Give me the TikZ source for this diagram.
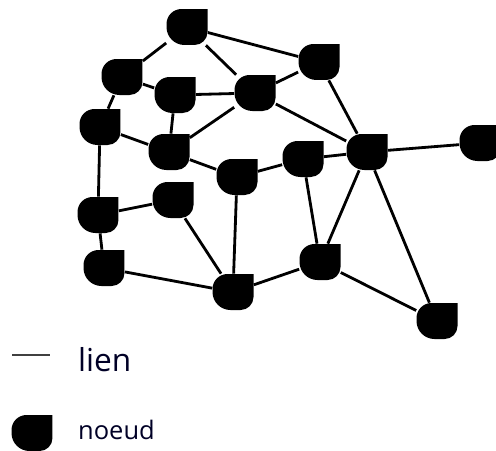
\documentclass[tikz,border=0pt]{standalone}
\usepackage{fontspec}
\setmainfont{Open Sans}
\begin{document}
\begin{tikzpicture}[x=0.02cm, y=0.02cm,
    noeud/.style={rectangle, inner sep=0pt, minimum width=0.82cm, minimum height=0.72cm,
      path picture={\fill[black, shift={(path picture bounding box.center)}]
        (0.41cm,0.36cm) -- (0.41cm,-0.10cm) arc[start angle=0, end angle=-90, radius=0.26cm]
        -- (-0.05cm,-0.36cm) arc[start angle=270, end angle=180, radius=0.36cm]
        -- (-0.41cm,0.06cm) arc[start angle=180, end angle=90, radius=0.30cm] -- cycle;}},
    lien/.style={line width=1.6pt}]
    \useasboundingbox (0,0) rectangle (496,-450);

    % Noeuds
    \node[noeud] (a) at (187,-27) {};
    \node[noeud] (b) at (319,-62) {};
    \node[noeud] (c) at (122,-77) {};
    \node[noeud] (d) at (175,-95) {};
    \node[noeud] (e) at (255,-93) {};
    \node[noeud] (f) at (100,-127) {};
    \node[noeud] (g) at (169,-152) {};
    \node[noeud] (h) at (237,-177) {};
    \node[noeud] (i) at (303,-159) {};
    \node[noeud] (j) at (367,-152) {};
    \node[noeud] (k) at (480,-143) {};
    \node[noeud] (l) at (173,-200) {};
    \node[noeud] (m) at (98,-215) {};
    \node[noeud] (n) at (104,-268) {};
    \node[noeud] (o) at (233,-292) {};
    \node[noeud] (p) at (320,-262) {};
    \node[noeud] (q) at (437,-321) {};

    % Liens
    \foreach \u/\v in {a/b, a/c, a/e, c/d, c/f, d/e, d/g, e/b, e/j, e/g, f/g, f/m,
                       g/h, h/i, i/j, b/j, j/k, h/o, i/p, j/p, j/q, p/q, p/o,
                       m/l, l/o, m/n, n/o}
        \draw[lien] (\u) -- (\v);

    % Legende
    \coordinate (l1) at (12,-355);
    \coordinate (l2) at (50,-355);
    \draw[line width=0.9pt, black!75] (l1) -- (l2);
    \node[anchor=west, text=black!85!blue, font=\fontsize{18}{20}\selectfont] (tlien) at (72,-360) {lien};
    \node[noeud] (leg) at (32,-433) {};
    \node[anchor=west, text=black!85!blue, font=\fontsize{14.5}{16}\selectfont] (tnoeud) at (72,-430) {noeud};
\end{tikzpicture}
\end{document}
